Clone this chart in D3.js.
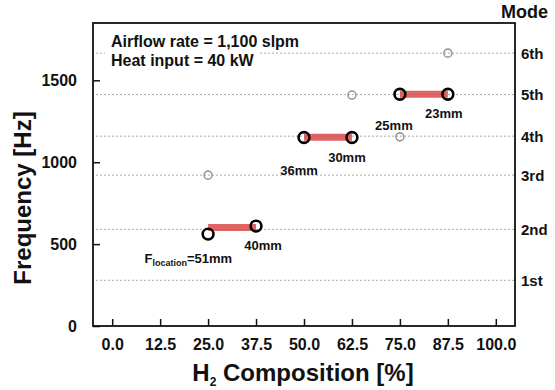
<!DOCTYPE html>
<html>
<head>
<meta charset="utf-8">
<script src="https://cdn.jsdelivr.net/npm/d3@7/dist/d3.min.js"></script>
<style>
  html, body { margin: 0; padding: 0; background: #fff; }
  svg { display: block; font-family: "Liberation Sans", Arial, sans-serif; }
  text { fill: #111; font-weight: bold; }
</style>
</head>
<body>
<svg id="chart" width="555" height="390"></svg>
<script>
// Acoustic mode frequencies of the combustor (dotted reference lines)
const modeNames = ["1st", "2nd", "3rd", "4th", "5th", "6th"];
const modeFreqs = [279, 590, 921, 1159, 1413, 1666];

// Measured dominant frequencies vs. H2 composition
const h2Comp = [25.0, 37.5, 50.0, 62.5, 75.0, 87.5];
const measuredFreq = [561, 610, 1151, 1151, 1415, 1415];
const flameLocation = ["51mm", "40mm", "36mm", "30mm", "25mm", "23mm"];

// Secondary (weaker) peaks sitting on mode lines
const secondaryH2 = [25.0, 62.5, 75.0, 87.5];
const secondaryFreq = [921, 1410, 1155, 1666];

// Mode-hopping ranges: same mode held between two compositions
const rangeFrom = [25.0, 50.0, 75.0];
const rangeTo = [37.5, 62.5, 87.5];
const rangeFreq = [602, 1153, 1415];

// Axis ticks
const xTicks = [0, 12.5, 25, 37.5, 50, 62.5, 75, 87.5, 100];
const yTicks = [0, 500, 1000, 1500];

const svg = d3.select("#chart");
const plotL = 93, plotR = 515, plotT = 23, plotB = 326;

const x = d3.scaleLinear().domain([-5, 105]).range([plotL, plotR]);
const y = d3.scaleLinear().domain([0, 1850]).range([plotB, plotT]);

// Mode grid lines
svg.append("g").selectAll("line").data(modeFreqs).join("line")
  .attr("x1", plotL + 3).attr("x2", plotR)
  .attr("y1", d => y(d)).attr("y2", d => y(d))
  .attr("stroke", "#aaa").attr("stroke-width", 1)
  .attr("stroke-dasharray", "2,2");

// Mode labels on the right
svg.append("g").selectAll("text").data(modeNames).join("text")
  .attr("x", plotR + 6)
  .attr("y", (d, i) => y(modeFreqs[i]))
  .attr("dy", "0.36em")
  .attr("font-size", 15)
  .text(d => d);

svg.append("text")
  .attr("x", plotR - 14).attr("y", 18)
  .attr("font-size", 18)
  .text("Mode");

// Condition annotation on a white backing
const note = svg.append("g");
const noteBg = note.append("rect").attr("fill", "#fff");
note.append("text").attr("x", 111).attr("y", 47).attr("font-size", 16)
  .text("Airflow rate = 1,100 slpm");
const l2 = note.append("text").attr("x", 111).attr("y", 66).attr("font-size", 16)
  .text("Heat input = 40 kW");
const w2 = l2.node().getComputedTextLength();
noteBg.attr("x", 105).attr("y", 30).attr("width", w2 + 12).attr("height", 42);

// Axes with inward ticks
const xAxis = svg.append("g")
  .attr("transform", `translate(0,${plotB})`)
  .call(d3.axisBottom(x).tickValues(xTicks).tickSize(-7).tickPadding(13)
    .tickFormat(d => d.toFixed(1)));
const yAxis = svg.append("g")
  .attr("transform", `translate(${plotL},0)`)
  .call(d3.axisLeft(y).tickValues(yTicks).tickSize(-7).tickPadding(16)
    .tickFormat(d3.format("d")));
[xAxis, yAxis].forEach(g => {
  g.select(".domain").remove();
  g.selectAll(".tick line").attr("stroke", "#111").attr("stroke-width", 1.5);
  g.selectAll(".tick text").attr("font-size", 16).attr("fill", "#111")
    .attr("font-family", "Liberation Sans, Arial, sans-serif");
});

// Frame
svg.append("rect")
  .attr("x", plotL).attr("y", plotT)
  .attr("width", plotR - plotL).attr("height", plotB - plotT)
  .attr("fill", "none").attr("stroke", "#111").attr("stroke-width", 1.8);

// Range bars
svg.append("g").selectAll("line").data(rangeFreq).join("line")
  .attr("x1", (d, i) => x(rangeFrom[i]))
  .attr("x2", (d, i) => x(rangeTo[i]))
  .attr("y1", d => y(d)).attr("y2", d => y(d))
  .attr("stroke", "#d94a4a").attr("stroke-opacity", 0.85)
  .attr("stroke-width", 7);

// Secondary peaks
svg.append("g").selectAll("circle").data(secondaryFreq).join("circle")
  .attr("cx", (d, i) => x(secondaryH2[i]))
  .attr("cy", d => y(d))
  .attr("r", 4)
  .attr("fill", "none").attr("stroke", "#9a9a9a").attr("stroke-width", 1.6);

// Dominant peaks
svg.append("g").selectAll("circle").data(measuredFreq).join("circle")
  .attr("cx", (d, i) => x(h2Comp[i]))
  .attr("cy", d => y(d))
  .attr("r", 5.4)
  .attr("fill", "none").attr("stroke", "#000").attr("stroke-width", 2.6);

// Flame location labels (offset from their points)
const labelShift = [[24, 29, "end"], [7, 24, "middle"], [-5, 38, "middle"],
                    [-5, 25, "middle"], [-6, 36, "middle"], [-4, 24, "middle"]];
flameLocation.forEach((loc, i) => {
  const px = x(h2Comp[i]) + labelShift[i][0];
  const py = y(measuredFreq[i]) + labelShift[i][1];
  const t = svg.append("text")
    .attr("x", px).attr("y", py)
    .attr("text-anchor", labelShift[i][2])
    .attr("font-size", 13);
  if (i === 0) {
    t.append("tspan").text("F");
    t.append("tspan").attr("font-size", 9).attr("dy", 3).text("location");
    t.append("tspan").attr("dy", -3).text("=" + loc);
  } else {
    t.text(loc);
  }
});

// Axis titles
const xt = svg.append("text")
  .attr("x", (plotL + plotR) / 2 - 1).attr("y", 381)
  .attr("text-anchor", "middle").attr("font-size", 24);
xt.append("tspan").text("H");
xt.append("tspan").attr("font-size", 12).attr("dy", 5).text("2");
xt.append("tspan").attr("dy", -5).text(" Composition [%]");

svg.append("text")
  .attr("transform", `translate(31,198) rotate(-90)`)
  .attr("text-anchor", "middle").attr("font-size", 24)
  .text("Frequency [Hz]");
</script>
</body>
</html>
